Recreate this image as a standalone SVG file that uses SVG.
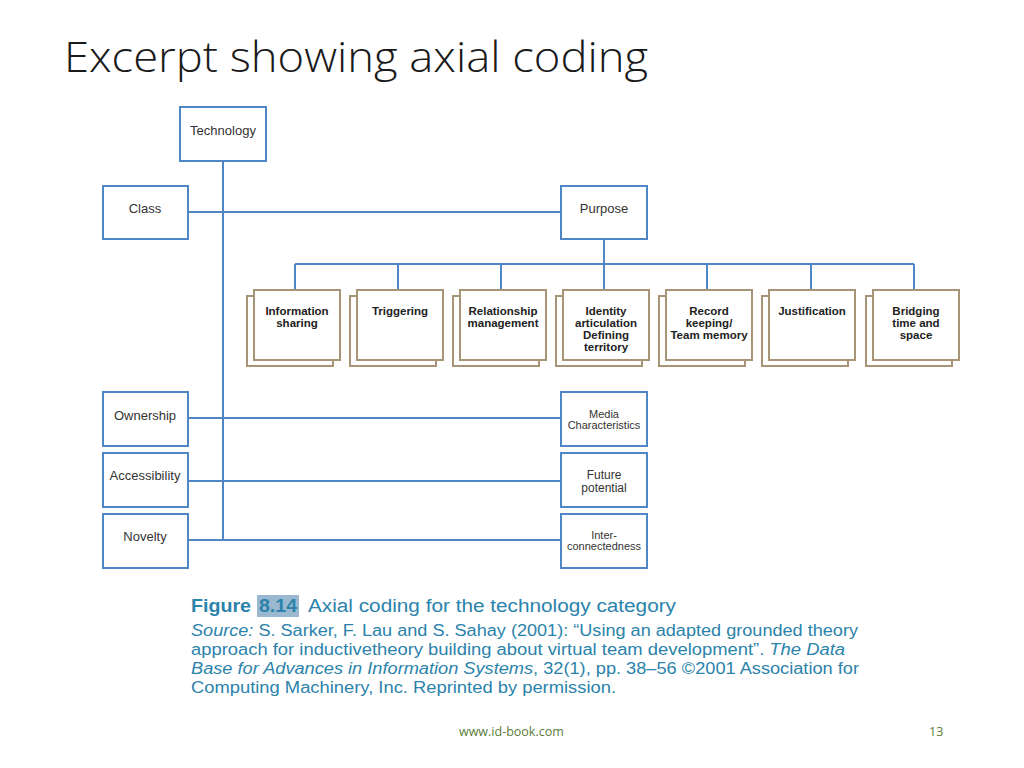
<svg xmlns="http://www.w3.org/2000/svg" width="1024" height="768" viewBox="0 0 1024 768">
<style>
.bb{fill:#fff;stroke:#4f86c6;stroke-width:2}
.tb{fill:#fff;stroke:#a89577;stroke-width:2}
.ln{stroke:#4f86c6;stroke-width:2;fill:none}
.lb{font-family:"Liberation Sans",Arial,sans-serif;font-size:13px;fill:#333;text-anchor:middle}
.sm{font-size:11px}
.md{font-size:12px}
.tl{font-family:"Liberation Sans",Arial,sans-serif;font-size:11.5px;font-weight:bold;fill:#222;text-anchor:middle}
.cap{font-family:"Liberation Sans",Arial,sans-serif;fill:#2b83ab}
</style>
<rect width="1024" height="768" fill="#fff"/>
<text x="64" y="72" font-family="'Open Sans','Liberation Sans',sans-serif" font-weight="300" font-size="42" fill="#1a1a1a" textLength="584" lengthAdjust="spacingAndGlyphs">Excerpt showing axial coding</text>

<g id="connectors">
<path class="ln" d="M223 161V540M188 212H561M604 239V264M295 264H914M295 264V290M398 264V290M501 264V290M604 264V290M707 264V290M811 264V290M914 264V290M188 418H561M188 481H561M188 540H561"/>
</g>

<g id="technology"><rect class="bb" x="180" y="107" width="86" height="54"/><text class="lb" x="223" y="135">Technology</text></g>
<g id="class"><rect class="bb" x="103" y="186" width="85" height="53"/><text class="lb" x="145" y="213">Class</text></g>
<g id="purpose"><rect class="bb" x="561" y="186" width="86" height="53"/><text class="lb" x="604" y="213">Purpose</text></g>

<g id="info-sharing"><rect class="tb" x="247" y="296" width="86" height="70"/><rect class="tb" x="254" y="290" width="86" height="70"/><text class="tl" x="297" y="315">Information<tspan x="297" dy="12">sharing</tspan></text></g>
<g id="triggering"><rect class="tb" x="350" y="296" width="86" height="70"/><rect class="tb" x="357" y="290" width="86" height="70"/><text class="tl" x="400" y="315">Triggering</text></g>
<g id="relationship"><rect class="tb" x="453" y="296" width="86" height="70"/><rect class="tb" x="460" y="290" width="86" height="70"/><text class="tl" x="503" y="315">Relationship<tspan x="503" dy="12">management</tspan></text></g>
<g id="identity"><rect class="tb" x="556" y="296" width="86" height="70"/><rect class="tb" x="563" y="290" width="86" height="70"/><text class="tl" x="606" y="315">Identity<tspan x="606" dy="12">articulation</tspan><tspan x="606" dy="12">Defining</tspan><tspan x="606" dy="12">territory</tspan></text></g>
<g id="record"><rect class="tb" x="659" y="296" width="86" height="70"/><rect class="tb" x="666" y="290" width="86" height="70"/><text class="tl" x="709" y="315">Record<tspan x="709" dy="12">keeping/</tspan><tspan x="709" dy="12">Team memory</tspan></text></g>
<g id="justification"><rect class="tb" x="762" y="296" width="86" height="70"/><rect class="tb" x="769" y="290" width="86" height="70"/><text class="tl" x="812" y="315">Justification</text></g>
<g id="bridging"><rect class="tb" x="866" y="296" width="86" height="70"/><rect class="tb" x="873" y="290" width="86" height="70"/><text class="tl" x="916" y="315">Bridging<tspan x="916" dy="12">time and</tspan><tspan x="916" dy="12">space</tspan></text></g>

<g id="ownership"><rect class="bb" x="103" y="392" width="85" height="54"/><text class="lb" x="145" y="420">Ownership</text></g>
<g id="accessibility"><rect class="bb" x="103" y="453" width="85" height="54"/><text class="lb" x="145" y="480">Accessibility</text></g>
<g id="novelty"><rect class="bb" x="103" y="514" width="85" height="54"/><text class="lb" x="145" y="541">Novelty</text></g>

<g id="media"><rect class="bb" x="561" y="392" width="86" height="54"/><text class="lb sm" x="604" y="418">Media<tspan x="604" dy="11">Characteristics</tspan></text></g>
<g id="future"><rect class="bb" x="561" y="453" width="86" height="54"/><text class="lb md" x="604" y="479">Future<tspan x="604" dy="13">potential</tspan></text></g>
<g id="inter"><rect class="bb" x="561" y="514" width="86" height="54"/><text class="lb sm" x="604" y="539">Inter-<tspan x="604" dy="11">connectedness</tspan></text></g>

<g id="caption">
<rect x="257" y="595" width="42" height="22" fill="#9ab8cf"/>
<text class="cap" x="191" y="612" font-size="18" font-weight="bold" textLength="60" lengthAdjust="spacingAndGlyphs">Figure</text>
<text class="cap" x="259" y="612" font-size="18" font-weight="bold" textLength="38" lengthAdjust="spacingAndGlyphs">8.14</text>
<text class="cap" x="308" y="612" font-size="18" textLength="368" lengthAdjust="spacingAndGlyphs">Axial coding for the technology category</text>
<text class="cap" x="191" y="636" font-size="16" textLength="667" lengthAdjust="spacingAndGlyphs"><tspan font-style="italic">Source:</tspan> S. Sarker, F. Lau and S. Sahay (2001): “Using an adapted grounded theory</text>
<text class="cap" x="191" y="655" font-size="16" textLength="654" lengthAdjust="spacingAndGlyphs">approach for inductivetheory building about virtual team development”. <tspan font-style="italic">The Data</tspan></text>
<text class="cap" x="191" y="674" font-size="16" textLength="668" lengthAdjust="spacingAndGlyphs"><tspan font-style="italic">Base for Advances in Information Systems</tspan>, 32(1), pp. 38–56 ©2001 Association for</text>
<text class="cap" x="191" y="693" font-size="16" textLength="425" lengthAdjust="spacingAndGlyphs">Computing Machinery, Inc. Reprinted by permission.</text>
</g>

<text x="459" y="736" font-family="'Open Sans','Liberation Sans',sans-serif" font-size="12.5" fill="#5c7d3a">www.id-book.com</text>
<text x="929" y="736" font-family="'Open Sans','Liberation Sans',sans-serif" font-size="12.5" fill="#5c7d3a">13</text>
</svg>
